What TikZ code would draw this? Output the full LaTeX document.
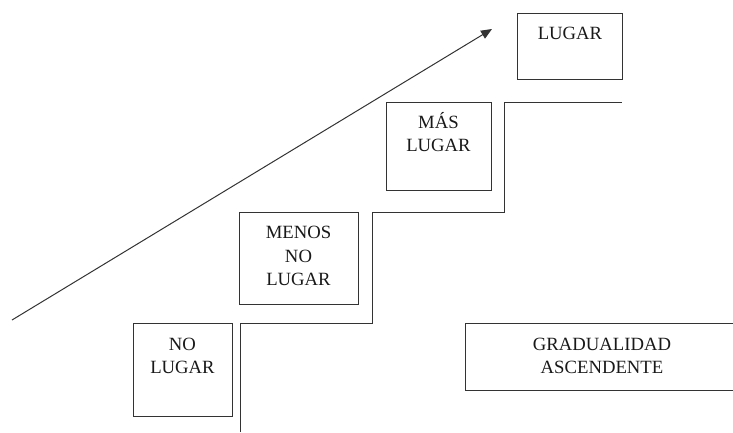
\documentclass[tikz,border=0pt]{standalone}
\usepackage{fontspec}
\setmainfont{Liberation Serif}
\usetikzlibrary{arrows.meta}
\begin{document}
\begin{tikzpicture}[x=1pt,y=-1pt,
  ln/.style={draw=black!80,line width=1pt},
  boxnode/.style={ln,rectangle,inner sep=0pt,anchor=north west},
  lbl/.style={align=center,anchor=base,inner sep=0pt,text=black!90,font=\fontsize{18.7}{23.5}\selectfont}]
\useasboundingbox (0,0) rectangle (733,432);
% boxes
\node[boxnode,minimum width=99pt,minimum height=93pt] (b1) at (133,323) {};
\node[boxnode,minimum width=119pt,minimum height=92pt] (b2) at (239,212) {};
\node[boxnode,minimum width=105pt,minimum height=88pt] (b3) at (386,102) {};
\node[boxnode,minimum width=105pt,minimum height=66pt] (b4) at (517,13) {};
\node[boxnode,minimum width=280pt,minimum height=67pt] (b5) at (465,323) {};
% labels (anchor = baseline of last line)
\node[lbl] (t1) at (182.5,373.5) {NO\\LUGAR};
\node[lbl] (t2) at (298.5,285.5) {MENOS\\NO\\LUGAR};
\node[lbl] (t3) at (438.5,151.5) {MÁS\\LUGAR};
\node[lbl] (t4) at (570,39.5) {LUGAR};
\node[lbl] (t5) at (602,373.5) {GRADUALIDAD\\ASCENDENTE};
% staircase
\draw[ln] (240,432) -- (240,323) -- (372,323) -- (372,212) -- (504,212) -- (504,102) -- (622,102);
% arrow
\coordinate (a0) at (12,320);
\coordinate (a1) at (492,29);
\draw[draw=black!80,line width=1pt,-{Triangle[length=11pt,width=9pt]}] (a0) -- (a1);
\end{tikzpicture}
\end{document}
